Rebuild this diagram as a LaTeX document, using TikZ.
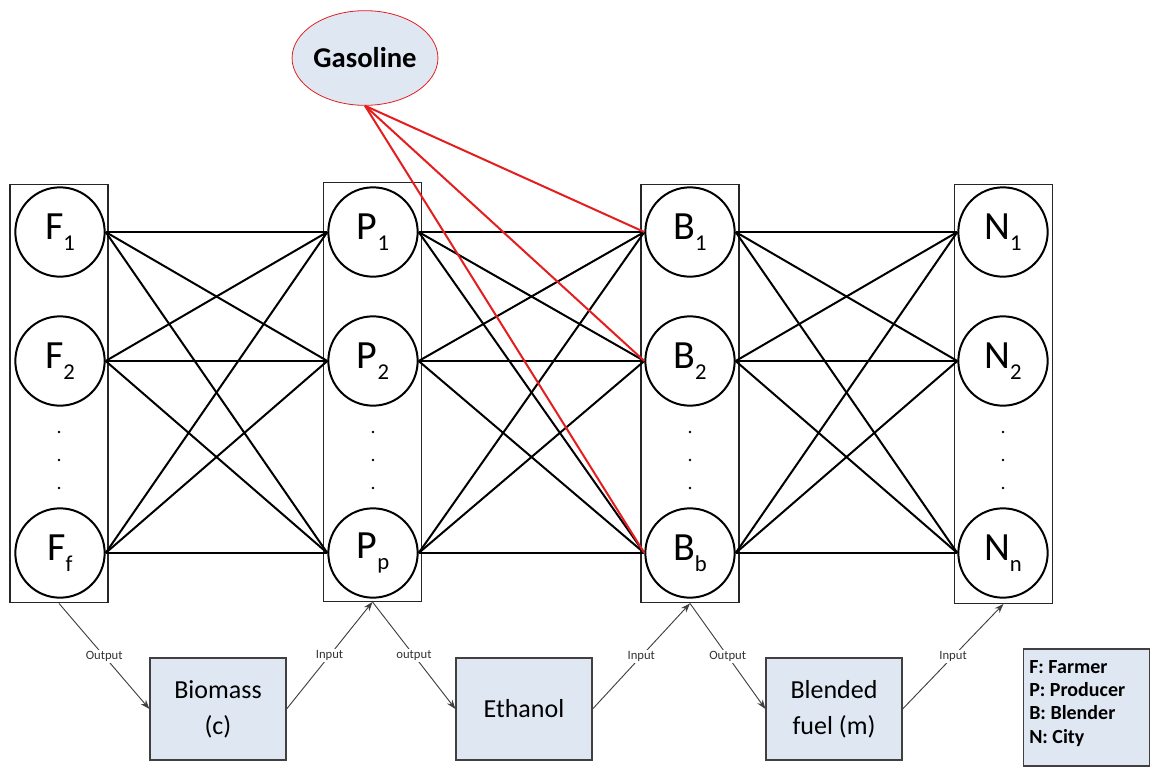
\documentclass[tikz,border=0pt]{standalone}
\usepackage{fontspec}
\setmainfont{Carlito}
\usetikzlibrary{arrows.meta,shapes.geometric}
\definecolor{boxfill}{RGB}{223,231,243}
\definecolor{gred}{RGB}{228,30,30}
\newcommand\lsub[1]{\raisebox{-8pt}{\fontsize{17}{17}\selectfont #1}}
\begin{document}
\begin{tikzpicture}[x=0.75pt,y=-0.75pt,
  col/.style={draw=black!85, line width=0.9pt, minimum width=73.5pt, minimum height=314pt, inner sep=0pt},
  agent/.style={circle, draw, line width=1.5pt, minimum size=67pt, inner sep=0pt, font=\fontsize{30}{32}\selectfont},
  link/.style={line width=1.5pt},
  glink/.style={line width=1.5pt, draw=gred},
  prod/.style={draw=black!75, fill=boxfill, line width=0.9pt, minimum width=102pt, minimum height=76.5pt, align=center, font=\fontsize{19.5}{27}\selectfont},
  flow/.style={draw=black!75, line width=0.7pt, -{Stealth[length=7pt,width=5pt]}},
  flowlbl/.style={fill=white, inner sep=1pt, font=\fontsize{9.5}{10}\selectfont, text=black!80},
  dotmark/.style={fill=black}
]
\useasboundingbox (0,0) rectangle (1154,768);

% column boxes
\node[col] (boxF) at (59,393.5) {};
\node[col] (boxP) at (372.5,392) {};
\node[col] (boxB) at (690,393.5) {};
\node[col] (boxN) at (1003.5,394) {};

% agent nodes
\node[agent] (F1) at (60,232) {F\lsub{1}};
\node[agent] (F2) at (60,361) {F\lsub{2}};
\node[agent] (F3) at (60,553) {F\lsub{f}};
\node[agent] (P1) at (373,232) {P\lsub{1}};
\node[agent] (P2) at (373,361) {P\lsub{2}};
\node[agent] (P3) at (373,553) {P\lsub{p}};
\node[agent] (B1) at (690,232) {B\lsub{1}};
\node[agent] (B2) at (690,361) {B\lsub{2}};
\node[agent] (B3) at (690,553) {B\lsub{b}};
\node[agent] (N1) at (1003,232) {N\lsub{1}};
\node[agent] (N2) at (1003,361) {N\lsub{2}};
\node[agent] (N3) at (1003,553) {N\lsub{n}};

% vertical dots
\foreach \xx in {59,373,690,1003}{
  \foreach \yy in {432,460,488}{
    \fill[dotmark] (\xx,\yy) circle (1.1pt);
  }
}

% bipartite links
\foreach \i in {1,2,3}{
  \foreach \j in {1,2,3}{
    \draw[link] (F\i.east) -- (P\j.west);
    \draw[link] (P\i.east) -- (B\j.west);
    \draw[link] (B\i.east) -- (N\j.west);
  }
}

% gasoline
\node[ellipse, draw=gred, fill=boxfill, line width=0.6pt, minimum width=108pt, minimum height=71pt, inner sep=0pt, font=\fontsize{21.5}{24}\selectfont\bfseries] (gas) at (365,58) {Gasoline};
\foreach \j in {1,2,3}{
  \draw[glink] (gas.south) -- (B\j.west);
}

% products
\node[prod] (bio) at (218,709) {Biomass\\(c)};
\node[prod] (eth) at (524,709) {Ethanol};
\node[prod] (bld) at (834,709) {Blended\\fuel (m)};

% flows
\draw[flow] (boxF.south) -- node[flowlbl] {Output} (bio.west);
\draw[flow] (bio.east) -- node[flowlbl] {Input} (boxP.south);
\draw[flow] (boxP.south) -- node[flowlbl] {output} (eth.west);
\draw[flow] (eth.east) -- node[flowlbl] {Input} (boxB.south);
\draw[flow] (boxB.south) -- node[flowlbl] {Output} (bld.west);
\draw[flow] (bld.east) -- node[flowlbl] {Input} (boxN.south);

% legend
\node[draw=black!75, fill=boxfill, line width=0.9pt, minimum width=95pt, minimum height=87.75pt, inner sep=0pt] (legend) at (1086.5,707.5) {};
\node[anchor=north west, align=left, inner sep=0pt, font=\fontsize{15}{17.5}\selectfont\bfseries] (legtext) at (1029,660) {F: Farmer\\P: Producer\\B: Blender\\N: City};
\end{tikzpicture}
\end{document}
